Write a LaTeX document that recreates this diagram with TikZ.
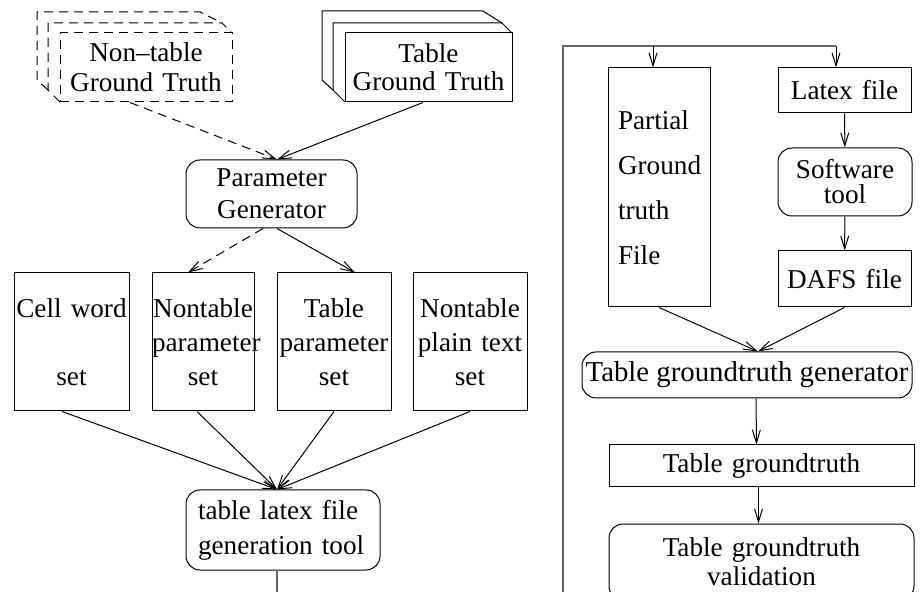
\documentclass[tikz,border=0pt]{standalone}
\usepackage{fontspec}
\setmainfont{Liberation Serif}
\usetikzlibrary{arrows.meta}

\begin{document}
\begin{tikzpicture}[x=0.5pt, y=-0.5pt, line width=0.5pt,
    font=\fontsize{13.6}{17}\selectfont,
    box/.style={draw=black, inner sep=0pt, align=center},
    rbox/.style={box, rounded corners=7pt},
    flow/.style={draw=black, -{Straight Barb[length=6.5pt,width=4pt]}},
    gtdash/.style={dash pattern=on 4.5pt off 3pt},
    frame/.style={draw=black!60, line width=1pt}]
    \path[use as bounding box, clip] (0,0) rectangle (920,592);

    % ground truth stacks
    \node[box, gtdash, text width=86pt, minimum height=34.5pt, font=\fontsize{13.6}{15}\selectfont] (ntgt) at (146,67.5) {Non--table\\Ground Truth};
    \draw[gtdash] (60,102) -- (48,90) -- (48,23) -- (222,23) -- (232,33);
    \draw[gtdash] (48,90) -- (37,80) -- (37,12) -- (200,12) -- (222,23);
    \node[box, text width=83.5pt, minimum height=34.5pt, font=\fontsize{13.6}{14}\selectfont] (tgt) at (428.5,67.5) {Table\\Ground Truth};
    \draw (345,102) -- (333,90) -- (333,23) -- (502,23) -- (512,33);
    \draw (333,90) -- (322,80) -- (322,11) -- (483,11) -- (502,23);

    \node[rbox, text width=85.5pt, minimum height=34pt, font=\fontsize{13.6}{16}\selectfont] (pgen) at (271.5,194) {Parameter\\Generator};
    \coordinate (pin) at ([xshift=2.75pt]pgen.north);
    \draw[flow, gtdash] ([xshift=-8pt]ntgt.south) -- (pin);
    \draw[flow] ([xshift=-2.75pt]tgt.south) -- (pin);

    % parameter sets
    \node[box, text width=57.5pt, minimum height=69pt] (cell) at (71.5,342) {Cell word\\~\\set};
    \node[box, text width=51pt, minimum height=69pt] (npar) at (203,342) {Nontable\\parameter\\set};
    \node[box, text width=57pt, minimum height=69pt] (tpar) at (334,342) {Table\\parameter\\set};
    \node[box, text width=57pt, minimum height=69pt] (ppar) at (470,342) {Nontable\\plain text\\set};
    \draw[flow, gtdash] ([xshift=-4.25pt]pgen.south) -- ([xshift=-7.5pt]npar.north);
    \draw[flow] ([xshift=2.75pt]pgen.south) -- ([xshift=10.5pt]tpar.north);

    \node[rbox, inner xsep=6pt, text width=85pt, align=left, minimum height=40pt, font=\fontsize{13.6}{17.5}\selectfont] (gentool) at (283,530) {table latex file\\generation tool};
    \coordinate (gin) at ([xshift=-3pt]gentool.north);
    \draw[flow] ([xshift=-4.75pt]cell.south) -- (gin);
    \draw[flow] ([xshift=-3pt]npar.south) -- (gin);
    \draw[flow] (tpar.south) -- (gin);
    \draw[flow] (ppar.south) -- (gin);

    % right column
    \node[box, inner xsep=5pt, text width=41pt, align=left, minimum height=119.5pt, font=\fontsize{13.6}{22.5}\selectfont] (partial) at (659,187.5) {Partial\\Ground\\truth\\File};
    \node[box, text width=66.5pt, minimum height=22.5pt] (latex) at (844.5,90.5) {Latex file};
    \node[rbox, text width=67pt, minimum height=34pt, font=\fontsize{13.6}{12.5}\selectfont] (soft) at (845,182) {Software\\tool};
    \node[box, text width=66.5pt, minimum height=28pt] (dafs) at (844.5,279) {DAFS file};
    \node[rbox, minimum width=165pt, minimum height=23pt, font=\fontsize{14.4}{17}\selectfont] (gen) at (747,375) {Table groundtruth generator};
    \node[box, text width=152.5pt, minimum height=21pt] (tgtr) at (761.5,466) {Table groundtruth};
    \node[rbox, text width=152.5pt, minimum height=38pt, font=\fontsize{13.6}{14.5}\selectfont] (valid) at (761.5,562) {Table groundtruth\\validation};

    \coordinate (ftop) at (563,46);
    \coordinate (topart) at (653,46);
    \coordinate (tolatex) at (836,46);
    \coordinate (genin) at ([xshift=5.5pt]gen.north);
    \draw[frame] ([xshift=-3pt]gentool.south) -- ++(0,80) -| (ftop) -- (tolatex);
    \draw[flow] (topart) -- ([xshift=-3pt]partial.north);
    \draw[flow] (tolatex) -- ([xshift=-4.25pt]latex.north);
    \draw[flow] (latex) -- (soft);
    \draw[flow] (soft) -- (dafs);
    \draw[flow] (partial.south) -- (genin);
    \draw[flow] (dafs.south) -- (genin);
    \draw[flow] ([xshift=4.5pt]gen.south) -- ([xshift=-2.5pt]tgtr.north);
    \draw[flow] ([xshift=-1.5pt]tgtr.south) -- ([xshift=-1.5pt]valid.north);
\end{tikzpicture}
\end{document}
